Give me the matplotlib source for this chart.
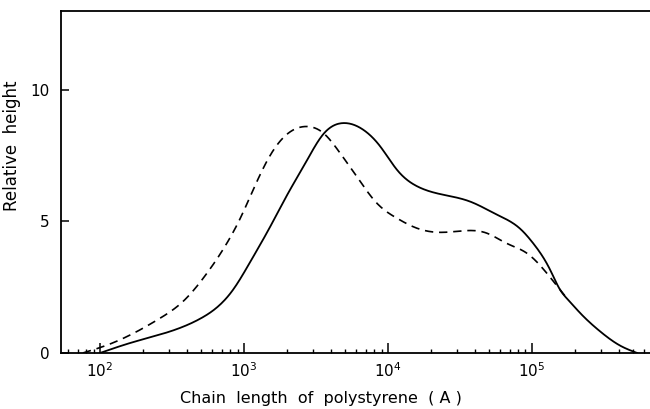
import numpy as np
import matplotlib
matplotlib.use("Agg")
import matplotlib.pyplot as plt
from matplotlib.ticker import LogLocator, FixedLocator, NullFormatter

# chain length (A) and relative height, solid trace
solid_len = [100, 162, 261, 495, 838, 1101, 1468, 1778, 2086, 2569, 3537,
             4870, 6706, 8800, 11550, 15900, 24090, 37100, 57130, 82540,
             101600, 133400, 156500, 177800, 215400, 296600, 408400, 536000]
solid_h = [0.0, 0.38, 0.7, 1.3, 2.4, 3.45, 4.65, 5.5, 6.2, 7.05, 8.3,
           8.73, 8.48, 7.85, 6.95, 6.33, 6.01, 5.75, 5.25, 4.72,
           4.17, 3.16, 2.4, 2.02, 1.52, 0.82, 0.28, 0.0]

# dashed trace
dash_len = [76, 117, 261, 379, 522, 718, 938, 1225, 1516, 1979, 2725,
            3553, 4642, 6061, 8349, 11490, 15820, 22970, 33340, 48470,
            66720, 91890, 126500, 156500, 177800]
dash_h = [0.0, 0.34, 1.32, 1.97, 2.85, 3.95, 5.1, 6.5, 7.5, 8.3, 8.6,
          8.35, 7.59, 6.7, 5.69, 5.12, 4.74, 4.58, 4.64, 4.55,
          4.16, 3.79, 3.03, 2.4, 2.02]

decades = [1e2, 1e3, 1e4, 1e5]
decade_labels = ["$10^{2}$", "$10^{3}$", "$10^{4}$", "$10^{5}$"]
y_ticks = [0, 5, 10]


def natural_spline(x, y, xn):
    # C2 cubic spline with zero curvature at both ends
    x = np.asarray(x, float)
    y = np.asarray(y, float)
    n = len(x)
    h = np.diff(x)
    A = np.zeros((n, n))
    b = np.zeros(n)
    A[0, 0] = A[-1, -1] = 1.0
    for i in range(1, n - 1):
        A[i, i - 1] = h[i - 1]
        A[i, i] = 2 * (h[i - 1] + h[i])
        A[i, i + 1] = h[i]
        b[i] = 6 * ((y[i + 1] - y[i]) / h[i] - (y[i] - y[i - 1]) / h[i - 1])
    M = np.linalg.solve(A, b)
    idx = np.clip(np.searchsorted(x, xn) - 1, 0, n - 2)
    hi = h[idx]
    a = x[idx + 1] - xn
    c = xn - x[idx]
    return (M[idx] * a**3 / (6 * hi) + M[idx + 1] * c**3 / (6 * hi)
            + (y[idx] / hi - M[idx] * hi / 6) * a
            + (y[idx + 1] / hi - M[idx + 1] * hi / 6) * c)


def curve(lengths, heights, n=600):
    lx = np.log10(lengths)
    grid = np.linspace(lx[0], lx[-1], n)
    return 10 ** grid, np.clip(natural_spline(lx, heights, grid), 0, None)


plt.rcParams["font.family"] = ["DejaVu Sans"]
plt.rcParams["mathtext.fontset"] = "dejavusans"

fig = plt.figure(figsize=(6.5, 4.09), dpi=100)
ax = fig.add_axes([0.094, 0.137, 0.906, 0.837])

sx, sy = curve(solid_len, solid_h)
dx, dy = curve(dash_len, dash_h)
ax.plot(sx, sy, color="black", lw=1.3)
ax.plot(dx, dy, color="black", lw=1.2, dashes=(5, 3.5))

ax.set_xscale("log")
ax.set_xlim(53.6, 659000)
ax.set_ylim(0, 13)

ax.xaxis.set_major_locator(FixedLocator(decades))
ax.set_xticklabels(decade_labels)
ax.xaxis.set_minor_locator(LogLocator(base=10, subs=np.arange(2, 10)))
ax.xaxis.set_minor_formatter(NullFormatter())
ax.set_yticks(y_ticks)
ax.set_yticklabels([str(v) for v in y_ticks])

ax.tick_params(axis="x", which="major", direction="in", length=7, width=1.1,
               labelsize=11, pad=6)
ax.tick_params(axis="x", which="minor", direction="in", length=3, width=1.0)
ax.tick_params(axis="y", which="major", direction="in", length=6, width=1.1,
               labelsize=11, pad=8)
ax.tick_params(axis="y", which="minor", left=False)

ax.spines["right"].set_visible(False)
for side in ("left", "bottom", "top"):
    ax.spines[side].set_linewidth(1.3)

ax.set_xlabel("Chain  length  of  polystyrene  ( A )", fontsize=11.5)
ax.xaxis.set_label_coords(0.441, -0.134)
ax.xaxis.label.set_va("center")
ax.set_ylabel("Relative  height", fontsize=12)
ax.yaxis.set_label_coords(-0.083, 0.606)
ax.yaxis.label.set_va("center")

fig.savefig("out.png", dpi=100)
